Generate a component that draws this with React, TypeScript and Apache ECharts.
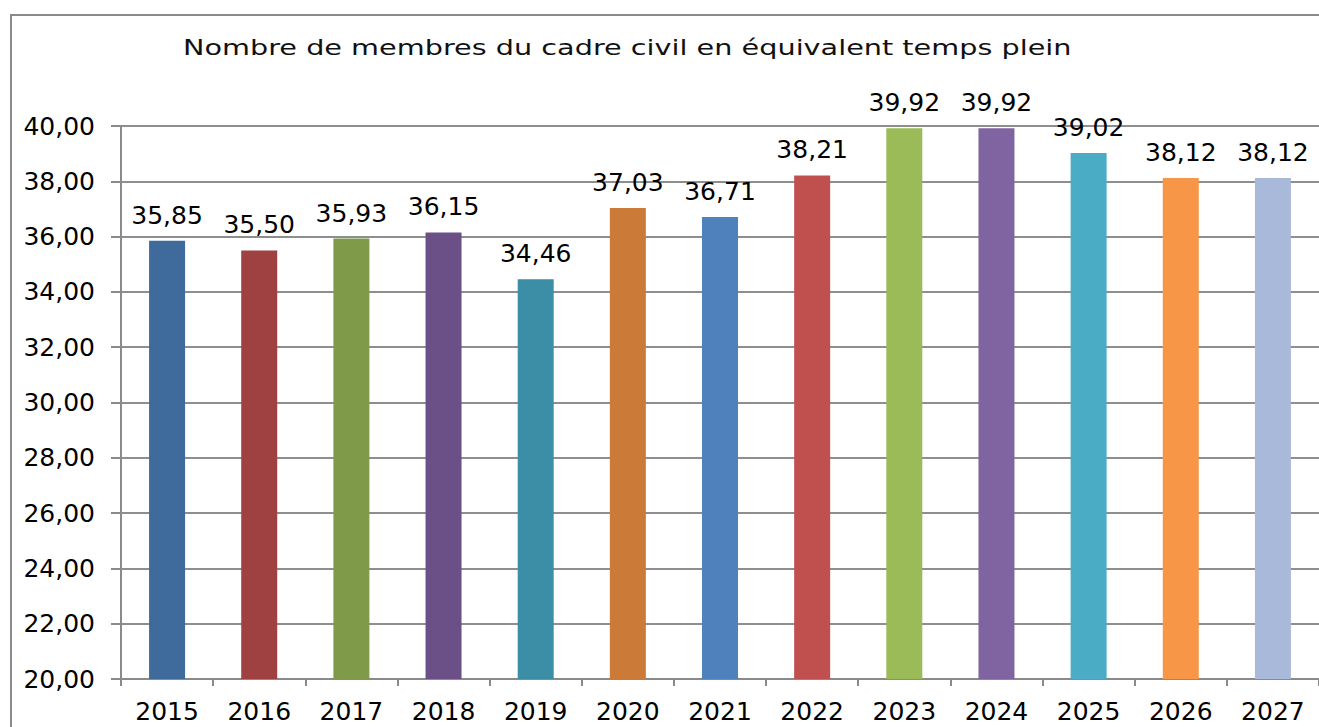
import React, { useEffect, useRef } from "react";
import * as echarts from "echarts";

const categories = ["2015", "2016", "2017", "2018", "2019", "2020", "2021", "2022", "2023", "2024", "2025", "2026", "2027"];
const values = [35.85, 35.5, 35.93, 36.15, 34.46, 37.03, 36.71, 38.21, 39.92, 39.92, 39.02, 38.12, 38.12];
const barColors = ["#3F6A9C", "#9E4140", "#7F9A48", "#6A5087", "#3B8EA5", "#CB7A37", "#4F81BD", "#C0504D", "#9BBB59", "#8064A2", "#4BACC6", "#F79646", "#A9B9D9"];
const titleText = "Nombre de membres du cadre civil en équivalent temps plein";

const FONT = "DejaVu Sans";
const fmt = (v: number) => v.toFixed(2).replace(".", ",");

export default function App() {
  const ref = useRef<HTMLDivElement>(null);
  useEffect(() => {
    if (!ref.current) return;
    const chart = echarts.init(ref.current, null, { renderer: "svg" });
    chart.setOption({
      animation: false,
      backgroundColor: "#ffffff",
      graphic: [
        {
          type: "rect",
          shape: { x: 11, y: 15, width: 1400, height: 800 },
          style: { fill: "none", stroke: "#8a8a8a", lineWidth: 2 },
          silent: true,
        },
        {
          type: "text",
          x: 183,
          y: 47,
          scaleX: 1.305,
          style: {
            text: titleText,
            font: `22px "${FONT}"`,
            fill: "#111",
            textVerticalAlign: "middle",
            verticalAlign: "middle",
          },
        },
      ],
      grid: { left: 121, top: 126, bottom: 48, right: -7, containLabel: false },
      xAxis: {
        type: "category",
        data: categories,
        axisLine: { show: true, lineStyle: { color: "#8a8a8a", width: 2 } },
        axisTick: { show: true, length: 7, alignWithLabel: false, lineStyle: { color: "#8a8a8a", width: 2 } },
        axisLabel: { color: "#000", fontFamily: FONT, fontSize: 25, margin: 20 },
        splitLine: { show: false },
      },
      yAxis: {
        type: "value",
        min: 20,
        max: 40,
        interval: 2,
        axisLine: { show: true, lineStyle: { color: "#8a8a8a", width: 2 } },
        axisTick: { show: true, length: 10, lineStyle: { color: "#8a8a8a", width: 2 } },
        axisLabel: { color: "#000", fontFamily: FONT, fontSize: 25, margin: 26, formatter: (v: number) => fmt(v) },
        splitLine: { show: true, lineStyle: { color: "#8e8e8e", width: 2 } },
      },
      series: [
        {
          type: "bar",
          barWidth: 36,
          data: values.map((v, i) => ({ value: v, itemStyle: { color: barColors[i] } })),
          label: {
            show: true,
            position: "top",
            distance: 13,
            color: "#000",
            fontFamily: FONT,
            fontSize: 25,
            formatter: (p: any) => fmt(p.value),
          },
        },
      ],
    });
    return () => chart.dispose();
  }, []);
  return <div ref={ref} style={{ position: "fixed", left: 0, top: 0, width: 1319, height: 727 }} />;
}
